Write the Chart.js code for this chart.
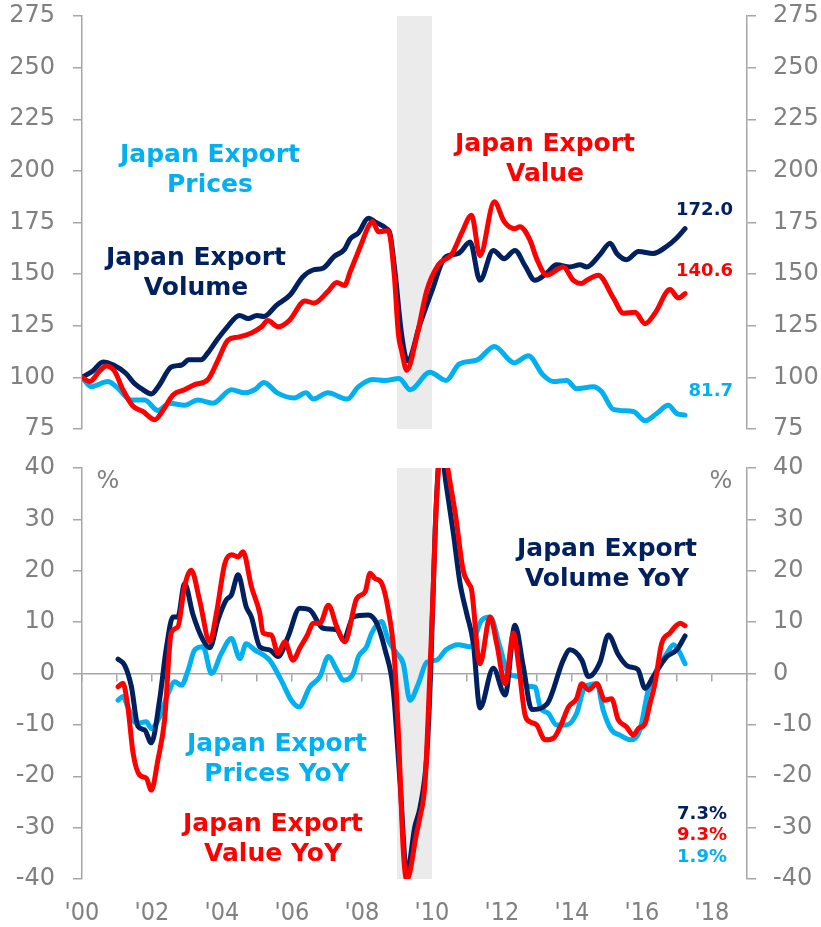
<!DOCTYPE html>
<html>
<head>
<meta charset="utf-8">
<script src="https://cdn.jsdelivr.net/npm/chart.js@4.4.1/dist/chart.umd.min.js"></script>
<style>
  html, body { margin: 0; padding: 0; background: #fff; }
  #wrap { position: relative; width: 821px; height: 927px; overflow: hidden; }
  #wrap canvas { position: absolute; left: 0; }
  .note { position: absolute; font-family: "DejaVu Sans", Verdana, sans-serif; font-weight: bold; white-space: pre; line-height: 30px; }
</style>
</head>
<body>
<div id="wrap">
  <canvas id="topChart" width="821" height="450" style="top:0"></canvas>
  <canvas id="bottomChart" width="821" height="477" style="top:450px"></canvas>
</div>
<script>
"use strict";

// index, 2000 = 100  [year, value]
const exportVolume = [
  [2000.0, 100], [2000.3, 103], [2000.6, 107.5], [2000.9, 106], [2001.25, 102], [2001.5, 97],
  [2001.7, 94.5], [2001.98, 92], [2002.2, 96], [2002.55, 105], [2002.85, 106], [2003.05, 108.5],
  [2003.4, 108.5], [2003.6, 112], [2003.85, 118], [2004.13, 124], [2004.5, 130], [2004.75, 128.5],
  [2005.0, 130], [2005.2, 129.5], [2005.56, 135], [2005.95, 140], [2006.3, 148.5], [2006.6, 152],
  [2006.9, 153], [2007.2, 158.5], [2007.5, 162], [2007.66, 167], [2007.9, 170], [2008.18, 177],
  [2008.4, 175], [2008.7, 172], [2008.8, 169.5], [2008.95, 150], [2009.13, 121], [2009.3, 108],
  [2009.66, 126], [2010.0, 142], [2010.37, 158], [2010.75, 160], [2011.09, 165.5], [2011.37, 147],
  [2011.75, 161.5], [2012.06, 157.5], [2012.37, 161.5], [2012.66, 154], [2012.94, 147], [2013.28, 150.5],
  [2013.56, 154.5], [2013.94, 153.5], [2014.23, 154.5], [2014.42, 153.5], [2014.8, 159.5], [2015.09, 165],
  [2015.28, 160], [2015.56, 157], [2015.9, 161], [2016.32, 160], [2016.71, 163.5], [2016.99, 167.5],
  [2017.23, 172.0]
];
const exportValue = [
  [2000.0, 100], [2000.22, 98], [2000.5, 103], [2000.69, 105.5], [2000.93, 103], [2001.17, 94],
  [2001.46, 86], [2001.74, 83.5], [2002.08, 79.5], [2002.31, 84], [2002.6, 91.5], [2002.93, 94],
  [2003.22, 96.5], [2003.6, 99], [2003.89, 108.5], [2004.17, 118], [2004.46, 119.5], [2004.84, 121.5],
  [2005.13, 124.5], [2005.31, 127.5], [2005.6, 124.5], [2005.92, 127.5], [2006.37, 137], [2006.63, 136],
  [2007.02, 141.5], [2007.28, 146], [2007.5, 144.5], [2007.66, 151], [2007.99, 165], [2008.18, 173],
  [2008.3, 175.5], [2008.47, 170.5], [2008.75, 171], [2008.92, 150], [2009.04, 121], [2009.13, 113],
  [2009.28, 103.5], [2009.56, 119.5], [2009.85, 142], [2010.18, 154.5], [2010.56, 159.5], [2010.85, 170],
  [2011.13, 178.5], [2011.37, 159], [2011.78, 185], [2012.06, 175.5], [2012.37, 172], [2012.51, 173],
  [2012.8, 166.5], [2012.99, 157.5], [2013.28, 149.5], [2013.75, 153.5], [2014.04, 147], [2014.28, 145.5],
  [2014.42, 147], [2014.75, 149.5], [2015.18, 138.5], [2015.47, 131], [2015.8, 131.5], [2016.09, 126],
  [2016.37, 131], [2016.8, 142.5], [2017.04, 138.5], [2017.23, 140.6]
];
const exportPrices = [
  [2000.0, 100], [2000.27, 95.5], [2000.74, 98], [2000.98, 95.5], [2001.41, 89], [2001.79, 89],
  [2002.17, 84], [2002.5, 87.5], [2002.93, 86.5], [2003.31, 89], [2003.74, 87.5], [2004.27, 94],
  [2004.65, 92.5], [2004.93, 94], [2005.2, 97.5], [2005.58, 92.5], [2006.06, 90], [2006.4, 92.5],
  [2006.61, 89.5], [2007.02, 92.5], [2007.58, 89.5], [2007.9, 95.5], [2008.3, 99], [2008.66, 98.5],
  [2009.06, 99.5], [2009.38, 94], [2009.94, 102.5], [2010.4, 98.5], [2010.78, 106.5], [2011.3, 108.5],
  [2011.78, 115], [2012.35, 107], [2012.75, 110.5], [2013.18, 101], [2013.47, 98], [2013.85, 98.5],
  [2014.13, 94.5], [2014.61, 95.5], [2014.85, 93], [2015.18, 84.5], [2015.75, 83.5], [2016.09, 79],
  [2016.42, 82.5], [2016.75, 86.5], [2016.99, 82.5], [2017.23, 81.7]
];

// year-on-year, %
const volumeYoY = [
  [2001.03, 2.8], [2001.22, 1.6], [2001.41, -2.5], [2001.6, -10.3], [2001.79, -11], [2001.98, -13.5],
  [2002.22, -5], [2002.41, 5], [2002.6, 11], [2002.74, 11], [2002.93, 17.5], [2003.17, 11.5],
  [2003.46, 6.5], [2003.65, 5], [2003.89, 10.5], [2004.12, 14.3], [2004.27, 15.3], [2004.46, 19.2],
  [2004.69, 13], [2004.84, 11], [2005.08, 5.2], [2005.36, 4.6], [2005.6, 3.3], [2005.89, 7.2],
  [2006.22, 12.7], [2006.5, 12.4], [2006.89, 8.8], [2007.28, 8.5], [2007.47, 6.5], [2007.75, 11],
  [2008.18, 11.4], [2008.42, 9.8], [2008.66, 4.6], [2008.89, -3], [2009.09, -21.5], [2009.28, -39],
  [2009.51, -29.8], [2009.66, -26], [2009.85, -16], [2009.96, 0], [2010.09, 28], [2010.25, 44],
  [2010.4, 37], [2010.61, 27.3], [2010.8, 17.6], [2010.99, 11.7], [2011.18, 5.9], [2011.37, -6.7],
  [2011.75, 1], [2012.09, -4.2], [2012.37, 9.4], [2012.61, 1.3], [2012.85, -7], [2013.28, -6],
  [2013.75, 2.6], [2013.94, 4.6], [2014.28, 2.6], [2014.47, -0.6], [2014.8, 2.2], [2015.04, 7.5],
  [2015.32, 3.7], [2015.6, 1.4], [2015.88, 0.8], [2016.09, -2.9], [2016.32, -0.6], [2016.71, 3.3],
  [2016.99, 4.6], [2017.23, 7.3]
];
const valueYoY = [
  [2001.03, -2.6], [2001.17, -1.9], [2001.31, -6.5], [2001.46, -15.5], [2001.65, -19.8], [2001.84, -20.4],
  [2001.98, -22.7], [2002.17, -16.8], [2002.36, -9], [2002.55, 7.9], [2002.74, 9.1], [2002.93, 16.9],
  [2003.12, 20.1], [2003.36, 14.3], [2003.65, 6.2], [2003.84, 11.7], [2004.08, 21.4], [2004.27, 23.1],
  [2004.46, 22.7], [2004.6, 23.7], [2004.84, 16.9], [2005.08, 11.7], [2005.17, 7.9], [2005.41, 7.5],
  [2005.6, 3.9], [2005.79, 6.2], [2006.03, 2.6], [2006.22, 4.9], [2006.44, 7.5], [2006.61, 9.8],
  [2006.8, 9.8], [2007.04, 13.3], [2007.28, 9.1], [2007.51, 6.2], [2007.85, 14.6], [2008.09, 15.9],
  [2008.23, 19.5], [2008.37, 18.5], [2008.56, 17.6], [2008.75, 12.4], [2008.92, 3.5], [2009.04, -11.6],
  [2009.18, -34.4], [2009.28, -40.2], [2009.56, -31.1], [2009.66, -27.8], [2009.8, -21.4], [2009.94, 0],
  [2010.04, 17.6], [2010.13, 33.8], [2010.3, 47], [2010.45, 40], [2010.68, 30.5], [2010.89, 20.1],
  [2011.04, 17.6], [2011.13, 16.3], [2011.37, 1.9], [2011.66, 11], [2011.85, 5.8], [2012.09, -2],
  [2012.33, 7.9], [2012.47, 1.9], [2012.66, -8.1], [2012.8, -9.4], [2012.99, -10], [2013.23, -12.9],
  [2013.47, -12.6], [2013.66, -10.4], [2013.9, -6.5], [2014.13, -4.9], [2014.28, -2], [2014.47, -3.2],
  [2014.71, -2], [2014.94, -5.2], [2015.13, -4.9], [2015.32, -9], [2015.56, -10.4], [2015.75, -12],
  [2015.9, -10.7], [2016.09, -9.7], [2016.23, -5.8], [2016.37, -2], [2016.56, 5.8], [2016.8, 7.9],
  [2016.99, 9.4], [2017.09, 9.8], [2017.23, 9.3]
];
const pricesYoY = [
  [2001.03, -5.2], [2001.17, -4.5], [2001.31, -6.5], [2001.55, -9.7], [2001.84, -9.4], [2001.98, -10.7],
  [2002.22, -8.4], [2002.46, -3.9], [2002.65, -1.6], [2002.84, -2.3], [2003.03, 0.6], [2003.22, 4.6],
  [2003.46, 5.2], [2003.7, 0], [2003.98, 3.9], [2004.27, 6.8], [2004.51, 2.9], [2004.69, 5.8],
  [2004.93, 4.6], [2005.36, 2.6], [2005.69, -1.3], [2005.98, -5.2], [2006.2, -6.5], [2006.51, -2.6],
  [2006.8, -0.6], [2007.04, 3.3], [2007.28, 0.7], [2007.47, -1.3], [2007.75, 0], [2007.9, 3.3],
  [2008.13, 5.2], [2008.28, 7.9], [2008.56, 10.1], [2008.75, 6.5], [2008.99, 3.9], [2009.18, 1.9],
  [2009.37, -5.2], [2009.61, -2], [2009.85, 2.2], [2010.13, 2.6], [2010.4, 4.6], [2010.75, 5.6],
  [2011.09, 5.2], [2011.42, 10.4], [2011.66, 11], [2011.94, 5.2], [2012.18, 0], [2012.47, -0.6],
  [2012.75, -2.5], [2012.94, -2.6], [2013.09, -6.5], [2013.33, -7.8], [2013.56, -10], [2013.85, -10],
  [2014.13, -7.8], [2014.37, -2.6], [2014.71, -2], [2014.89, -7.1], [2015.13, -11], [2015.37, -12],
  [2015.66, -12.9], [2015.94, -11], [2016.18, -3.2], [2016.42, 0.7], [2016.71, 3.9], [2016.9, 5.6],
  [2017.09, 3.9], [2017.23, 1.9]
];

const recession = [2009.0, 2010.0];
const xRange = [2000, 2019];
const indexTicks = { min: 75, max: 275, step: 25 };
const yoyTicks = { min: -40, max: 40, step: 10 };

const NAVY = "#002060";
const RED = "#FF0000";
const SKY = "#00B0F0";
const GREY = "#808080";
const AXIS = "#A6A6A6";
const FONT = "'DejaVu Sans', Verdana, sans-serif";

function toPoints(pairs) {
  return pairs.map(p => ({ x: p[0], y: p[1] }));
}

function line(data, color, order) {
  return {
    data: toPoints(data),
    borderColor: color,
    borderWidth: 5,
    pointRadius: 0,
    fill: false,
    cubicInterpolationMode: "monotone",
    borderJoinStyle: "round",
    borderCapStyle: "round",
    order: order,
    yAxisID: "y",
    xAxisID: "x"
  };
}

// grey band behind the lines
const shadePlugin = {
  id: "shade",
  beforeDatasetsDraw(chart) {
    const x = chart.scales.x;
    const a = chart.chartArea;
    const ctx = chart.ctx;
    ctx.save();
    ctx.fillStyle = "#EBEBEB";
    const x0 = x.getPixelForValue(recession[0]);
    const x1 = x.getPixelForValue(recession[1]);
    ctx.fillRect(x0, a.top, x1 - x0, a.bottom - a.top);
    ctx.restore();
  }
};

function yAxis(pos, range, fixedWidth) {
  return {
    position: pos,
    min: range.min,
    max: range.max,
    ticks: {
      stepSize: range.step,
      color: GREY,
      padding: pos === "left" ? 18 : 17,
      font: { family: FONT, size: 24 }
    },
    grid: { drawOnChartArea: false, tickLength: 9, color: AXIS, lineWidth: 1.5 },
    border: { display: true, color: AXIS, width: 1.5 },
    afterFit(s) {
      // plot area is set by the layout padding alone
      s.width = fixedWidth;
      s.paddingTop = 0;
      s.paddingBottom = 0;
    }
  };
}

Chart.defaults.animation = false;

new Chart(document.getElementById("topChart"), {
  type: "line",
  data: {
    datasets: [
      line(exportValue, RED, 1),
      line(exportVolume, NAVY, 2),
      line(exportPrices, SKY, 3)
    ]
  },
  options: {
    responsive: false,
    devicePixelRatio: 1,
    layout: { padding: { top: 16, bottom: 21, left: 0, right: 0 } },
    plugins: { legend: { display: false }, tooltip: { enabled: false } },
    scales: {
      x: { type: "linear", min: xRange[0], max: xRange[1], display: false },
      y: yAxis("left", indexTicks, 82),
      y2: yAxis("right", indexTicks, 74)
    }
  },
  plugins: [shadePlugin]
});

new Chart(document.getElementById("bottomChart"), {
  type: "line",
  data: {
    datasets: [
      line(valueYoY, RED, 1),
      line(volumeYoY, NAVY, 2),
      line(pricesYoY, SKY, 3)
    ]
  },
  options: {
    responsive: false,
    devicePixelRatio: 1,
    layout: { padding: { top: 18, bottom: 0, left: 0, right: 0 } },
    plugins: { legend: { display: false }, tooltip: { enabled: false } },
    scales: {
      x: {
        type: "linear",
        position: "bottom",
        min: xRange[0],
        max: xRange[1],
        ticks: {
          stepSize: 2,
          includeBounds: false,
          autoSkip: false,
          maxRotation: 0,
          padding: 19,
          color: GREY,
          font: { family: "'DejaVu Sans Condensed', " + FONT, size: 25 },
          callback: v => "'" + String(v).slice(2)
        },
        grid: { display: false, drawTicks: false },
        border: { display: false },
        afterFit(s) { s.height = 48; }
      },
      // zero line with a tick every year
      xZero: {
        type: "linear",
        position: { y: 0 },
        min: xRange[0],
        max: xRange[1],
        ticks: { display: false, stepSize: 1 },
        grid: { drawOnChartArea: false, tickLength: 7, color: AXIS, lineWidth: 1.5 },
        border: { display: true, color: AXIS, width: 1.5 }
      },
      y: yAxis("left", yoyTicks, 82),
      y2: yAxis("right", yoyTicks, 74)
    }
  },
  plugins: [shadePlugin]
});

// text labels on the plot
const wrap = document.getElementById("wrap");
function note(text, color, size, cx, cy, align, weight) {
  const d = document.createElement("div");
  d.className = "note";
  d.textContent = text;
  d.style.color = color;
  d.style.fontSize = size + "px";
  d.style.top = cy + "px";
  if (weight) d.style.fontWeight = weight;
  if (align === "right") {
    d.style.right = (821 - cx) + "px";
    d.style.textAlign = "right";
    d.style.transform = "translateY(-50%)";
  } else {
    d.style.left = cx + "px";
    d.style.textAlign = "center";
    d.style.transform = "translate(-50%, -50%)";
  }
  wrap.appendChild(d);
}

note("Japan Export\nPrices", SKY, 25, 210, 169);
note("Japan Export\nVolume", NAVY, 25, 196, 272);
note("Japan Export\nValue", RED, 25, 545, 158);
note("172.0", NAVY, 18, 733, 209, "right");
note("140.6", RED, 18, 733, 270, "right");
note("81.7", SKY, 18, 733, 390, "right");

note("Japan Export\nVolume YoY", NAVY, 25, 607, 563);
note("Japan Export\nPrices YoY", SKY, 25, 277, 758);
note("Japan Export\nValue YoY", RED, 25, 273, 838);
note("7.3%", NAVY, 18, 727, 813, "right");
note("9.3%", RED, 18, 727, 834, "right");
note("1.9%", SKY, 18, 727, 856, "right");

note("%", GREY, 24, 108, 480, "center", "normal");
note("%", GREY, 24, 721, 480, "center", "normal");
</script>
</body>
</html>
